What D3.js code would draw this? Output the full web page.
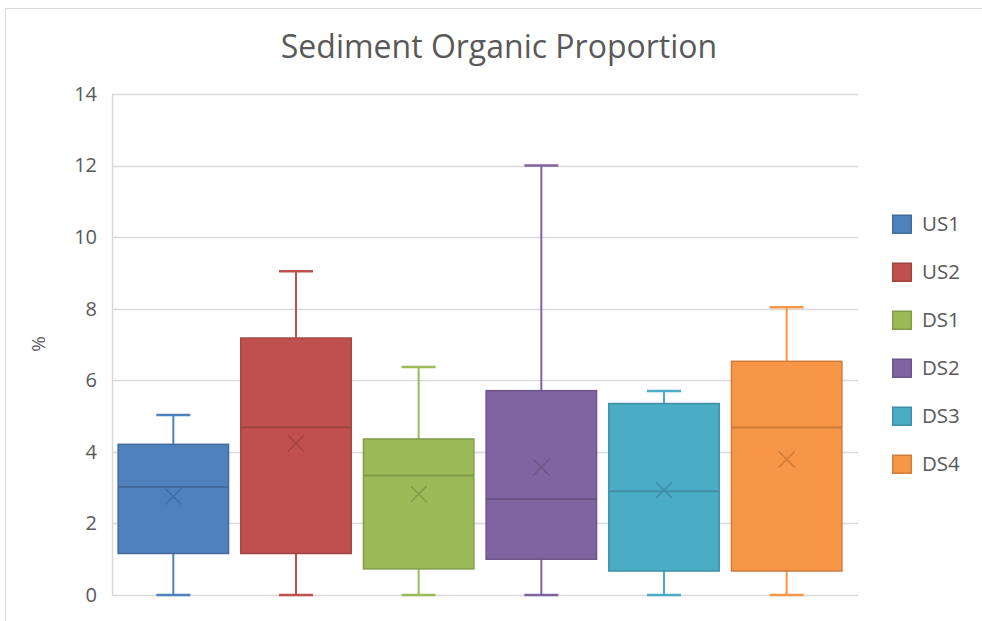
<!DOCTYPE html>
<html><head><meta charset="utf-8">
<script src="https://cdn.jsdelivr.net/npm/d3@7"></script>
<style>body{margin:0;background:#fff;} svg{display:block;}</style>
</head><body>
<script>
const categories = ["US1","US2","DS1","DS2","DS3","DS4"];
const minVals    = [0, 0, 0, 0, 0, 0];
const q1Vals     = [1.16, 1.16, 0.73, 1.0, 0.67, 0.67];
const medianVals = [3.02, 4.69, 3.34, 2.68, 2.90, 4.68];
const q3Vals     = [4.21, 7.18, 4.36, 5.71, 5.35, 6.53];
const maxVals    = [5.03, 9.05, 6.37, 12.0, 5.70, 8.04];
const meanVals   = [2.75, 4.24, 2.82, 3.57, 2.93, 3.79];
const yTicks     = [0, 2, 4, 6, 8, 10, 12, 14];
const colors     = ["#4f81bd","#c0504d","#9bbb59","#8064a2","#4bacc6","#f79646"];
const titleText  = "Sediment Organic Proportion";
const yLabel     = "%";

(function(){
const W = 982, H = 621;
const svg = d3.select("body").append("svg").attr("width", W).attr("height", H);
const font = "'Open Sans', 'Segoe UI', sans-serif";

svg.append("rect").attr("x", 5.5).attr("y", 8.5).attr("width", W + 10).attr("height", H + 10)
  .attr("fill", "#fff").attr("stroke", "#d9d9d9").attr("stroke-width", 1);

const pl = 112, pr = 858, pt = 94, pb = 595;
const x = d3.scaleBand().domain(categories).range([pl, 848]).paddingInner(0.1).paddingOuter(0.05);
const y = d3.scaleLinear().domain([0, 14]).range([pb, pt]);

svg.append("g").selectAll("line").data(yTicks).join("line")
  .attr("x1", pl).attr("x2", pr)
  .attr("y1", d => Math.round(y(d)) + 0.5).attr("y2", d => Math.round(y(d)) + 0.5)
  .attr("stroke", "#d9d9d9").attr("stroke-width", 1.5);
svg.append("line").attr("x1", pl + 0.5).attr("x2", pl + 0.5).attr("y1", pt).attr("y2", pb)
  .attr("stroke", "#d9d9d9").attr("stroke-width", 1.5);

const yAxis = svg.append("g").attr("transform", `translate(${pl},0)`)
  .call(d3.axisLeft(y).tickValues(yTicks).tickSize(0).tickPadding(15));
yAxis.select(".domain").remove();
yAxis.selectAll("text").attr("font-family", font).attr("font-size", 20).attr("fill", "#595959");

svg.append("text").attr("transform", "translate(45,344) rotate(-90)")
  .attr("text-anchor", "middle").attr("font-family", font).attr("font-size", 19).attr("fill", "#595959")
  .text(yLabel);

svg.append("text").attr("x", 499).attr("y", 58).attr("text-anchor", "middle")
  .attr("font-family", font).attr("font-size", 32).attr("fill", "#595959").text(titleText);

const data = categories.map((c, i) => ({c, i, min: minVals[i], q1: q1Vals[i], med: medianVals[i],
  q3: q3Vals[i], max: maxVals[i], mean: meanVals[i], color: colors[i]}));

const g = svg.append("g").selectAll("g").data(data).join("g");
const bw = x.bandwidth();
const capW = 34;
g.each(function(d) {
  const s = d3.select(this);
  const cx = x(d.c) + bw / 2;
  const dark = d3.color(d.color).darker(0.5).toString();
  s.append("line").attr("x1", cx).attr("x2", cx).attr("y1", y(d.q3)).attr("y2", y(d.max))
    .attr("stroke", d.color).attr("stroke-width", 2);
  s.append("line").attr("x1", cx).attr("x2", cx).attr("y1", y(d.q1)).attr("y2", y(d.min))
    .attr("stroke", d.color).attr("stroke-width", 2);
  s.append("line").attr("x1", cx - capW / 2).attr("x2", cx + capW / 2).attr("y1", y(d.max)).attr("y2", y(d.max))
    .attr("stroke", d.color).attr("stroke-width", 2.5);
  s.append("line").attr("x1", cx - capW / 2).attr("x2", cx + capW / 2).attr("y1", y(d.min)).attr("y2", y(d.min))
    .attr("stroke", d.color).attr("stroke-width", 2.5);
  s.append("rect").attr("x", x(d.c)).attr("width", bw).attr("y", y(d.q3)).attr("height", y(d.q1) - y(d.q3))
    .attr("fill", d.color).attr("stroke", dark).attr("stroke-width", 1.5);
  s.append("line").attr("x1", x(d.c)).attr("x2", x(d.c) + bw).attr("y1", y(d.med)).attr("y2", y(d.med))
    .attr("stroke", dark).attr("stroke-width", 2);
  const m = 8, my = y(d.mean);
  s.append("path").attr("d", `M${cx - m},${my - m}L${cx + m},${my + m}M${cx - m},${my + m}L${cx + m},${my - m}`)
    .attr("stroke", dark).attr("stroke-width", 1.5).attr("fill", "none");
});

const lg = svg.append("g").selectAll("g").data(data).join("g")
  .attr("transform", (d, i) => `translate(892,${224 + i * 48})`);
lg.append("rect").attr("x", 0.75).attr("y", -8.75).attr("width", 18.5).attr("height", 18)
  .attr("fill", d => d.color).attr("stroke", d => d3.color(d.color).darker(0.5)).attr("stroke-width", 1.5);
lg.append("text").attr("x", 30).attr("y", 0).attr("dy", "0.36em")
  .attr("font-family", font).attr("font-size", 20.5).attr("fill", "#595959").text(d => d.c);
})();
</script>
</body></html>
